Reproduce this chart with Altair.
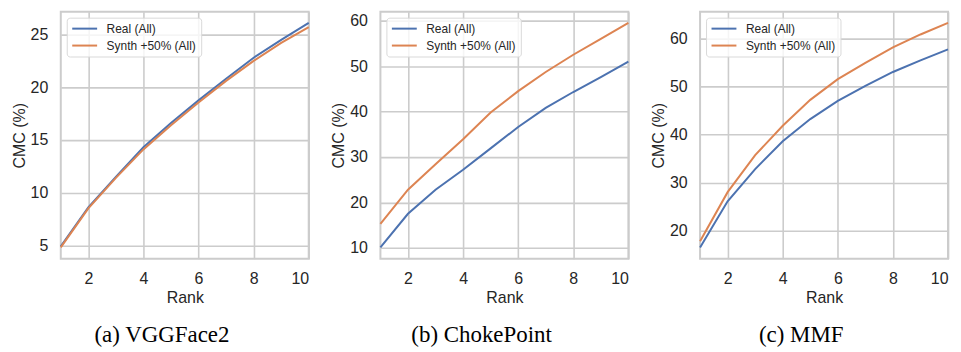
import altair as alt
import pandas as pd

ranks = [1, 2, 3, 4, 5, 6, 7, 8, 9, 10]
series_names = ["Real (All)", "Synth +50% (All)"]
series_colors = ["#4c72b0", "#dd8452"]

a_real = [4.9, 8.6, 11.5, 14.3, 16.6, 18.75, 20.8, 22.8, 24.5, 26.1]
a_synth = [4.8, 8.5, 11.4, 14.1, 16.4, 18.55, 20.6, 22.5, 24.2, 25.7]
b_real = [10.1, 17.5, 22.8, 27.2, 31.9, 36.6, 40.8, 44.3, 47.6, 51.0]
b_synth = [15.3, 22.8, 28.4, 33.9, 39.8, 44.5, 48.7, 52.5, 56.0, 59.5]
c_real = [16.5, 26.1, 32.8, 38.6, 43.2, 47.0, 50.1, 53.0, 55.4, 57.7]
c_synth = [17.8, 28.0, 35.7, 41.8, 47.2, 51.5, 54.9, 58.1, 60.8, 63.2]

captions = ["(a) VGGFace2", "(b) ChokePoint", "(c) MMF"]
x_ticks = [2, 4, 6, 8, 10]
y_ticks = [[5, 10, 15, 20, 25], [10, 20, 30, 40, 50, 60], [20, 30, 40, 50, 60]]

panels = [(a_real, a_synth), (b_real, b_synth), (c_real, c_synth)]


def panel(real, synth, caption, yt):
    df = pd.DataFrame({
        "Rank": ranks * 2,
        "CMC": real + synth,
        "Series": [series_names[0]] * len(ranks) + [series_names[1]] * len(ranks),
    })
    lo, hi = min(real + synth), max(real + synth)
    m = 0.05 * (hi - lo)
    return alt.Chart(df, title=alt.TitleParams(
        caption, orient="bottom", anchor="middle", frame="bounds",
        font="Liberation Serif", fontSize=23, fontWeight="normal",
        color="#000000", offset=19)).mark_line(strokeWidth=2).encode(
        x=alt.X("Rank:Q", scale=alt.Scale(domain=[1, 10], nice=False, zero=False),
                axis=alt.Axis(values=x_ticks, title="Rank", labelPadding=12, titlePadding=3)),
        y=alt.Y("CMC:Q", scale=alt.Scale(domain=[lo - m, hi + m], nice=False, zero=False),
                axis=alt.Axis(values=yt, title="CMC (%)", labelPadding=13, titlePadding=3)),
        color=alt.Color("Series:N", scale=alt.Scale(domain=series_names, range=series_colors),
                        legend=alt.Legend(title=None, orient="top-left", offset=6)),
    ).properties(width=249, height=248)


charts = [panel(r, s, c, yt) for (r, s), c, yt in zip(panels, captions, y_ticks)]

chart = alt.hconcat(*charts, spacing=72, bounds="flush").resolve_scale(
    color="independent", y="independent"
).resolve_legend(color="independent").properties(
    padding={"left": 2, "top": 2, "right": 0, "bottom": 0}
).configure_view(
    stroke="#cccccc", strokeWidth=2
).configure_axis(
    labelFont="Liberation Sans", labelFontSize=16, labelColor="#262626",
    titleFont="Liberation Sans", titleFontSize=16, titleFontWeight="normal", titleColor="#262626",
    gridColor="#cccccc", gridWidth=1.6, domain=False, ticks=False, tickSize=0,
).configure_legend(
    labelFont="Liberation Sans", labelFontSize=12, labelColor="#262626",
    symbolType="M-2.5,0H2.5", symbolSize=100, symbolStrokeWidth=2,
    fillColor="rgba(255,255,255,0.8)", strokeColor="#d9d9d9", cornerRadius=3,
    padding=5, rowPadding=5, symbolOffset=7, labelOffset=16,
)

chart.save("out.html", embed_options={"renderer": "svg", "actions": False})
